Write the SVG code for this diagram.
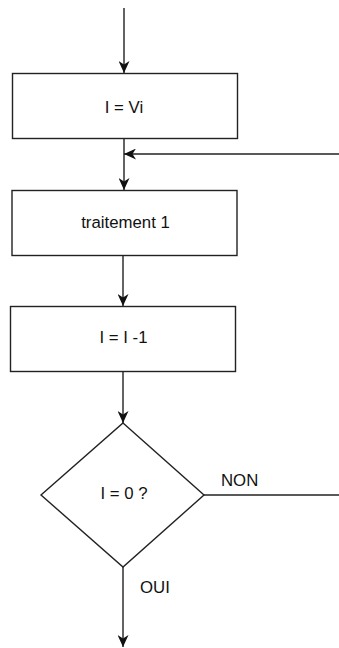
<svg xmlns="http://www.w3.org/2000/svg" width="339" height="648" viewBox="0 0 339 648">
<style>
.n{fill:#fff;stroke:#222;stroke-width:1.4}
.e{fill:none;stroke:#222;stroke-width:1.4}
text{font-family:"Liberation Sans",Arial,sans-serif;font-size:16.8px;fill:#111}
.c{text-anchor:middle;dominant-baseline:central}
</style>
<defs>
<marker id="a" viewBox="0 0 12 11" refX="12" refY="5.5" markerWidth="12" markerHeight="11" markerUnits="userSpaceOnUse" orient="auto">
<path d="M0,0 L12,5.5 L0,11 L3.5,5.5 Z" fill="#111"/>
</marker>
</defs>
<rect width="339" height="648" fill="#fff"/>
<g id="connectors">
<line class="e" x1="124" y1="8" x2="124" y2="73" marker-end="url(#a)"/>
<line class="e" x1="124" y1="139" x2="124" y2="190" marker-end="url(#a)"/>
<line class="e" x1="339" y1="154" x2="124" y2="154" marker-end="url(#a)"/>
<line class="e" x1="123" y1="256" x2="123" y2="306" marker-end="url(#a)"/>
<line class="e" x1="123" y1="372" x2="123" y2="423" marker-end="url(#a)"/>
<line class="e" x1="204" y1="495" x2="339" y2="495"/>
<line class="e" x1="123" y1="567" x2="123" y2="647" marker-end="url(#a)"/>
<text x="221" y="486">NON</text>
<text x="140" y="593">OUI</text>
</g>
<g id="n1">
<rect class="n" x="12.5" y="73.5" width="225" height="65"/>
<text class="c" x="124" y="107">I = Vi</text>
</g>
<g id="n2">
<rect class="n" x="12" y="190.5" width="225" height="65"/>
<text class="c" x="125.5" y="222">traitement 1</text>
</g>
<g id="n3">
<rect class="n" x="10.5" y="306.5" width="225" height="65"/>
<text class="c" x="123.5" y="337">I = I -1</text>
</g>
<g id="n4">
<polygon class="n" points="123,423 204,495 123,567 41,495"/>
<text class="c" x="124" y="493">I = 0 ?</text>
</g>
</svg>
